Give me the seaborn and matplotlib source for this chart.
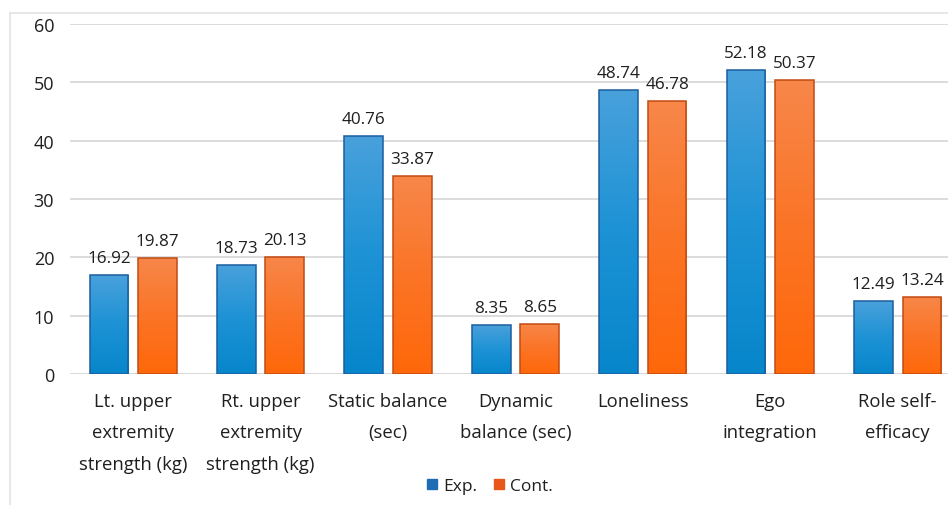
import numpy as np
import pandas as pd
import matplotlib
matplotlib.use("Agg")
import matplotlib.pyplot as plt
from matplotlib.colors import LinearSegmentedColormap, to_rgba
from matplotlib.patches import Rectangle
import seaborn as sns

# ---- data ----
categories = [
    "Lt. upper\nextremity\nstrength (kg)",
    "Rt. upper\nextremity\nstrength (kg)",
    "Static balance\n(sec)",
    "Dynamic\nbalance (sec)",
    "Loneliness",
    "Ego\nintegration",
    "Role self-\nefficacy",
]
exp_values = [16.92, 18.73, 40.76, 8.35, 48.74, 52.18, 12.49]
cont_values = [19.87, 20.13, 33.87, 8.65, 46.78, 50.37, 13.24]
groups = ["Exp.", "Cont."]
y_ticks = [0, 10, 20, 30, 40, 50, 60]

df = pd.DataFrame({
    "category": categories * 2,
    "group": [groups[0]] * len(categories) + [groups[1]] * len(categories),
    "value": exp_values + cont_values,
})

# ---- styling ----
sns.set_theme(style="white")
plt.rcParams["font.family"] = ["Open Sans", "DejaVu Sans"]
text_color = "#1F1F1F"
grid_color = "#D9D9D9"

solid = {"Exp.": "#1F78C1", "Cont.": "#F26419"}
gradients = {
    "Exp.": ["#0786CB", "#1D92D5", "#49A1DB"],
    "Cont.": ["#FF680A", "#FB7426", "#F7874A"],
}
edges = {"Exp.": "#1B5E9E", "Cont.": "#C24A12"}
legend_colors = {"Exp.": "#1E6DB4", "Cont.": "#E8561A"}

fig = plt.figure(figsize=(9.48, 5.06), dpi=100)
ax = fig.add_axes([69.5 / 948, 1 - 375 / 506, (961.4 - 69.5) / 948, 350 / 506])

sns.barplot(
    data=df, x="category", y="value", hue="group", hue_order=groups,
    palette=solid, width=0.76, gap=0.2, legend=False, ax=ax, errorbar=None,
    saturation=1,
)

ax.set_xlim(-0.5, len(categories) - 0.5)
ax.set_ylim(0, 60)

# gradient fill for each bar, clipped to the bar rectangle
grad = np.linspace(0, 1, 256).reshape(-1, 1)
for patch in list(ax.patches):
    fc = patch.get_facecolor()
    grp = min(groups, key=lambda g: np.sum((np.array(to_rgba(solid[g])) - np.array(fc)) ** 2))
    x0, y0 = patch.get_xy()
    w, h = patch.get_width(), patch.get_height()
    cmap = LinearSegmentedColormap.from_list(grp, gradients[grp])
    im = ax.imshow(grad, extent=[x0, x0 + w, y0, y0 + h], origin="lower",
                   cmap=cmap, aspect="auto", interpolation="bicubic", zorder=2)
    im.set_clip_path(patch)
    patch.set_facecolor("none")
    patch.set_edgecolor(edges[grp])
    patch.set_linewidth(1.1)
    patch.set_zorder(3)
    val = y0 + h
    ax.annotate(f"{val:.2f}", (x0 + w / 2, val), xytext=(0, 6.5),
                textcoords="offset points", ha="center", va="bottom",
                fontsize=12.3, color=text_color, zorder=4)

ax.set_xlim(-0.5, len(categories) - 0.5)
ax.set_ylim(0, 60)
ax.set_yticks(y_ticks)
ax.set_yticklabels([str(t) for t in y_ticks])
ax.yaxis.grid(True, color=grid_color, linewidth=1.3)
ax.set_axisbelow(True)
for s in ax.spines.values():
    s.set_visible(False)
ax.axhline(0, color=grid_color, linewidth=1.3, zorder=1)
ax.tick_params(axis="y", length=0, pad=11, labelsize=13, labelcolor=text_color)
ax.tick_params(axis="x", length=0, pad=13, labelsize=13.3, labelcolor=text_color)
for lbl in ax.get_xticklabels():
    lbl.set_linespacing(1.95)
ax.set_xlabel("")
ax.set_ylabel("")

# legend below the plot
handles = [Rectangle((0, 0), 1, 1, facecolor=legend_colors[g], edgecolor=legend_colors[g]) for g in groups]
fig.legend(handles, groups, loc="center", bbox_to_anchor=(490 / 948, 1 - 487 / 506),
           ncol=2, frameon=False, fontsize=12.5, handlelength=0.55, handleheight=0.55,
           handletextpad=0.35, columnspacing=1.0, labelcolor=text_color)

# light outer frame
fig.patches.append(Rectangle((10 / 948, -0.05), 1.1, 1 - 14 / 506 + 0.05,
                             transform=fig.transFigure, fill=False,
                             edgecolor="#E3E3E3", linewidth=1.2))

fig.savefig("out.png", dpi=100)
